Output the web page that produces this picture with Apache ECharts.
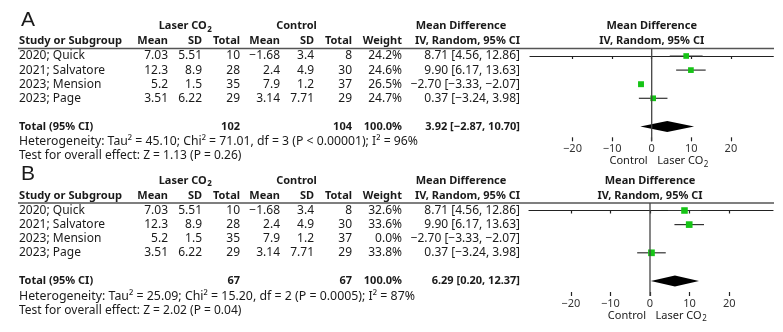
<!DOCTYPE html>
<html><head><meta charset="utf-8">
<script src="https://cdn.jsdelivr.net/npm/echarts@6/dist/echarts.min.js"></script>
<style>html,body{margin:0;padding:0;background:#fff}#c{width:783px;height:332px}</style>
</head><body><div id="c"></div>
<script>
// ---------------- data ----------------
const studies   = ['2020; Quick', '2021; Salvatore', '2023; Mension', '2023; Page'];
const laserMean = [7.03, 12.3, 5.2, 3.51];
const laserSD   = [5.51, 8.9, 1.5, 6.22];
const laserN    = [10, 28, 35, 29];
const ctrlMean  = [-1.68, 2.4, 7.9, 3.14];
const ctrlSD    = [3.4, 4.9, 1.2, 7.71];
const ctrlN     = [8, 30, 37, 29];
const mdValue   = [8.71, 9.90, -2.70, 0.37];
const mdLow     = [4.56, 6.17, -3.33, -3.24];
const mdHigh    = [12.86, 13.63, -2.07, 3.98];
const weightA   = [24.2, 24.6, 26.5, 24.7];
const weightB   = [32.6, 33.6, 0.0, 33.8];
const totalA    = [102, 104, 100.0, 3.92, -2.87, 10.70]; // nLaser, nCtrl, weight, md, low, high
const totalB    = [67, 67, 100.0, 6.29, 0.20, 12.37];
const hetA  = 'Heterogeneity: Tau² = 45.10; Chi² = 71.01, df = 3 (P < 0.00001); I² = 96%';
const testA = 'Test for overall effect: Z = 1.13 (P = 0.26)';
const hetB  = 'Heterogeneity: Tau² = 25.09; Chi² = 15.20, df = 2 (P = 0.0005); I² = 87%';
const testB = 'Test for overall effect: Z = 2.02 (P = 0.04)';
const tickValues = [-20, -10, 0, 10, 20];
const panelLabels = ['A', 'B'];
const colHeaders = ['Study or Subgroup', 'Mean', 'SD', 'Total', 'Mean', 'SD', 'Total', 'Weight'];
const groupHeaders = ['Laser CO', 'Control'];
const mdHeader = ['Mean Difference', 'IV, Random, 95% CI'];
const dirLabels = ['Control', 'Laser CO'];

// ---------------- layout ----------------
const FONT = '"Noto Sans"';
const REG = '12px ' + FONT, BOLD = 'bold 11px ' + FONT;
const TXT = '#1a1a1a';
const ROW0 = 56, STEP = 14.1;
const minus = s => String(s).replace(/-/g, '\u2212');
const f2 = v => minus(v.toFixed(2));
const ciStr = (m, l, h) => f2(m) + ' [' + f2(l) + ', ' + f2(h) + ']';
const cv = document.createElement('canvas').getContext('2d');
const tw = (t, font) => { cv.font = font; return cv.measureText(t).width; };

const panels = [
  {dy: 0, weight: weightA, total: totalA, het: hetA, hetW: 399, test: testA, zeroX: 651.7, left: 530, right: 773.3, axisY: 141.3},
  {dy: 154.5, weight: weightB, total: totalB, het: hetB, hetW: 396, test: testB, zeroX: 650, left: 529, right: 773, axisY: 296}
];
const PX10 = 39.6;

const graphics = [];
function txt(t, x, y, font, align, fitW) {
  const el = {type: 'text', silent: true, style: {
    text: t, x: x, y: y, font: font, fill: TXT, textAlign: align || 'left', textVerticalAlign: 'middle'}};
  if (fitW) { el.scaleX = fitW / tw(t, font); el.originX = x; el.originY = y; }
  graphics.push(el);
}
function sub2(t, x, y, font, subFont, align) {
  const w1 = tw(t, font), w2 = tw('2', subFont);
  let x0 = x;
  if (align === 'center') x0 = x - (w1 + w2) / 2;
  else if (align === 'right') x0 = x - (w1 + w2);
  txt(t, x0, y, font, 'left');
  txt('2', x0 + w1 + 0.5, y + 3.5, subFont, 'left');
}

const grids = [], xAxes = [], yAxes = [], series = [];
panels.forEach((p, k) => {
  const d = p.dy;
  txt(panelLabels[k], 21, 20 + d, '21px "Liberation Sans"', 'left');
  // group headers
  sub2(groupHeaders[0], 185, 26 + d, BOLD, 'bold 8px ' + FONT, 'center');
  txt(groupHeaders[1], 296.5, 26 + d, BOLD, 'center');
  txt(mdHeader[0], 461, 26 + d, BOLD, 'center');
  txt(mdHeader[0], p.zeroX, 26 + d, BOLD, 'center');
  // column headers
  const colX = [19, 168, 202, 240, 280, 314, 352, 402];
  colHeaders.forEach((h, i) => txt(h, colX[i], 41 + d, BOLD, i === 0 ? 'left' : 'right', i === 0 ? 103 : 0));
  txt(mdHeader[1], 520, 41 + d, BOLD, 'right');
  txt(mdHeader[1], p.zeroX, 41 + d, BOLD, 'center');
  graphics.push({type: 'line', silent: true, shape: {x1: 18, y1: 48.5 + d, x2: 774, y2: 48.5 + d},
    style: {stroke: '#555', lineWidth: 1.3}});
  // rows
  studies.forEach((s, i) => {
    const y = ROW0 + STEP * i + d;
    txt(s, 19, y, REG, 'left');
    txt(minus(laserMean[i]), 168, y, REG, 'right');
    txt(minus(laserSD[i]), 202, y, REG, 'right');
    txt(String(laserN[i]), 240, y, REG, 'right');
    txt(minus(ctrlMean[i]), 280, y, REG, 'right');
    txt(minus(ctrlSD[i]), 314, y, REG, 'right');
    txt(String(ctrlN[i]), 352, y, REG, 'right');
    txt(p.weight[i].toFixed(1) + '%', 402, y, REG, 'right');
    txt(ciStr(mdValue[i], mdLow[i], mdHigh[i]), 520, y, REG, 'right');
  });
  const ty = ROW0 + STEP * 5 + d;
  txt('Total (95% CI)', 19, ty, BOLD, 'left');
  txt(String(p.total[0]), 240, ty, BOLD, 'right');
  txt(String(p.total[1]), 352, ty, BOLD, 'right');
  txt(p.total[2].toFixed(1) + '%', 402, ty, BOLD, 'right');
  txt(ciStr(p.total[3], p.total[4], p.total[5]), 520, ty, BOLD, 'right');
  txt(p.het, 19, 141.7 + d, REG, 'left', p.hetW);
  txt(p.test, 19, 156 + d, REG, 'left');
  // direction labels
  txt(dirLabels[0], p.zeroX - 4, 161 + d, '11px ' + FONT, 'right');
  sub2(dirLabels[1], p.zeroX + 5.5, 161 + d, '11px ' + FONT, '8px ' + FONT, 'left');

  // forest grid
  const top = 48.5 + d, bottom = p.axisY;
  const rowTop = ROW0 + d;
  const yMin = (top - rowTop) / STEP, yMax = (bottom - rowTop) / STEP;
  const xMin = (p.left - p.zeroX) / PX10 * 10, xMax = (p.right - p.zeroX) / PX10 * 10;
  grids.push({left: p.left, top: top, width: p.right - p.left, height: bottom - top});
  const ax = {type: 'value', gridIndex: k, min: xMin, max: xMax, position: 'bottom', splitLine: {show: false}};
  xAxes.push(Object.assign({}, ax, {
    axisLine: {show: true, lineStyle: {color: '#222', width: 1.2}},
    axisTick: {show: true, length: 3, customValues: tickValues, lineStyle: {color: '#222', width: 1.2}},
    axisLabel: {show: true, customValues: tickValues, margin: 2, color: '#333', fontFamily: 'Noto Sans', fontSize: 11,
      formatter: v => minus(v)}
  }));
  xAxes.push(Object.assign({}, ax, {
    axisLine: {show: false},
    axisTick: {show: true, inside: true, length: 4, customValues: tickValues, lineStyle: {color: '#222', width: 1.2}},
    axisLabel: {show: false}
  }));
  yAxes.push({type: 'value', gridIndex: k, inverse: true, min: yMin, max: yMax, show: false});

  series.push({type: 'line', xAxisIndex: 2 * k, yAxisIndex: k, symbol: 'none', silent: true,
    data: [[0, yMin], [0, yMax]], lineStyle: {color: '#444', width: 1.3}});
  series.push({type: 'custom', xAxisIndex: 2 * k, yAxisIndex: k, silent: true,
    data: studies.map((s, i) => [mdLow[i], mdHigh[i], mdValue[i], i, p.weight[i]]),
    renderItem: (params, api) => {
      const w = api.value(4);
      if (!(w > 0)) return null;
      const r = api.value(3);
      const a = api.coord([api.value(0), r]), b = api.coord([api.value(1), r]), m = api.coord([api.value(2), r]);
      const s = 1.15 * Math.sqrt(w);
      return {type: 'group', children: [
        {type: 'line', shape: {x1: a[0], y1: a[1], x2: b[0], y2: b[1]}, style: {stroke: '#333', lineWidth: 1.2}},
        {type: 'rect', shape: {x: m[0] - s / 2, y: m[1] - s / 2, width: s, height: s}, style: {fill: '#16c416'}}
      ]};
    }});
  series.push({type: 'custom', xAxisIndex: 2 * k, yAxisIndex: k, silent: true,
    data: [[p.total[4], p.total[3], p.total[5], 5]],
    renderItem: (params, api) => {
      const r = api.value(3);
      const a = api.coord([api.value(0), r]), m = api.coord([api.value(1), r]), b = api.coord([api.value(2), r]);
      const h = 5.5;
      return {type: 'polygon', shape: {points: [[a[0], a[1]], [m[0], m[1] - h], [b[0], b[1]], [m[0], m[1] + h]]},
        style: {fill: '#000'}};
    }});
});

const chart = echarts.init(document.getElementById('c'));
chart.setOption({
  backgroundColor: '#fff',
  animation: false,
  grid: grids, xAxis: xAxes, yAxis: yAxes, series: series,
  graphic: graphics
});
</script></body></html>
